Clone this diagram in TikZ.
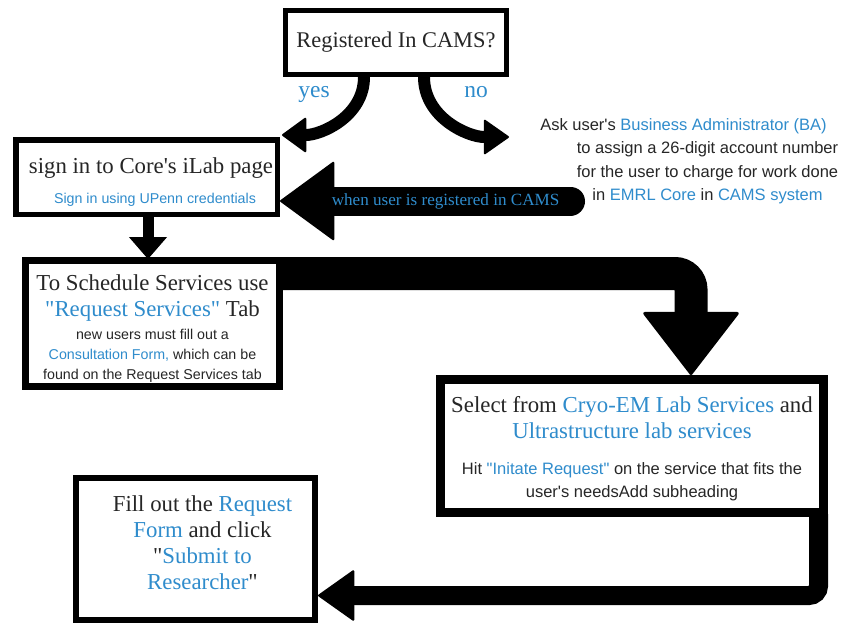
\documentclass[tikz,border=0pt]{standalone}
\usepackage{fontspec}
\newfontfamily\headserif{Liberation Serif}
\newfontfamily\bodysans{Liberation Sans}
\usepackage{xcolor}
\usetikzlibrary{arrows.meta, positioning, calc}

\definecolor{linkblue}{RGB}{47,140,204}
\definecolor{textdark}{RGB}{38,38,38}
% natural, rigid word spaces inside the boxes
\newcommand{\rigidspace}{\spaceskip=\fontdimen2\font\xspaceskip=\fontdimen2\font}
\newcommand{\headfont}{\headserif\fontsize{22.8}{26}\selectfont\rigidspace}
\newcommand{\subfont}{\bodysans\fontsize{14.25}{20.3}\selectfont\rigidspace}
\newcommand{\notefont}{\bodysans\fontsize{16.5}{22.4}\selectfont\rigidspace}
\newcommand{\askfont}{\bodysans\fontsize{16.5}{23.5}\selectfont}
\newcommand{\lnk}[1]{\textcolor{linkblue}{#1}}

\begin{document}
\begin{tikzpicture}[x=1pt, y=1pt,
  stepbox/.style={rectangle, draw=black, fill=white, inner sep=0pt,
    align=center, text=textdark},
  flow/.style={draw=black},
  branchlbl/.style={font=\headserif\fontsize{23.5}{26}\selectfont,
    text=linkblue, anchor=base},
  flowlbl/.style={font=\headserif\fontsize{17.1}{20}\selectfont,
    text=linkblue},
  note/.style={align=center, text=textdark, font=\askfont},
]
\path[fill=white, use as bounding box] (0,0) rectangle (847,-622);
%
% ====== DECISION ======
\node[stepbox, line width=5pt, minimum width=221pt, minimum height=64pt,
  font=\headserif\fontsize{22.4}{26}\selectfont] (cams) at (396,-42.5)
  {Registered In CAMS?};
\node[branchlbl] (yes) at ([shift={(-82,-20)}]cams.south) {yes};
\node[branchlbl] (no) at ([shift={(80,-20)}]cams.south) {no};
\node[note] (ask) at (707.5,-161)
  {Ask user's \lnk{Business Administrator (BA)}\hspace*{48pt}\\
   to assign a 26-digit account number\\
   for the user to charge for work done\\
   in \lnk{EMRL Core} in \lnk{CAMS system}};
\coordinate (noend) at (509,-137);
\coordinate (camstail) at (570.5,-201);
%
% ====== STEPS ======
\node[stepbox, line width=5.5pt, minimum width=261.5pt, minimum height=74.5pt,
  text width=255pt] (ilab) at (146.5,-177)
  {{\headfont\advance\leftskip by 9pt
    \rule{0pt}{26pt}sign in to Core's iLab page\par}\vspace{9pt}%
   {\subfont\advance\leftskip by 17pt
    \lnk{Sign in using UPenn credentials}\par}};
\node[stepbox, line width=7pt, minimum width=254pt, minimum height=126pt,
  text width=247pt] (sched) at (152.5,-323.5)
  {{\headfont\rule{0pt}{26pt}To Schedule Services use\\
    \lnk{"Request Services"} Tab\par}\vspace{2.7pt}%
   {\subfont new users must fill out a\\
    \lnk{Consultation Form,} which can be\\
    found on the Request Services tab\par}};
\node[stepbox, line width=9pt, minimum width=383pt, minimum height=133pt,
  text width=372pt] (select) at (632,-446)
  {{\headfont\rule{0pt}{21.5pt}Select from \lnk{Cryo-EM Lab Services} and\\
    \lnk{Ultrastructure lab services}\par}\vspace{13.9pt}%
   {\notefont Hit \lnk{"Initate Request"} on the service that fits the\\
    user's needsAdd subheading\par}};
\node[stepbox, line width=6pt, minimum width=239pt, minimum height=142pt,
  text width=233pt] (form) at (195.5,-549)
  {{\headfont\advance\leftskip by 14pt
    Fill out the \lnk{Request}\\
    \lnk{Form} and click\\
    "\lnk{Submit to}\\
    \lnk{Researcher}"\rule[-12pt]{0pt}{12pt}\par}};
%
% ====== CONNECTORS ======
\draw[flow, line width=12pt,
  -{Triangle[length=25pt, width=36pt, line width=2pt, round]}]
  ([xshift=-32pt]cams.south) to[out=-90, in=0]
  ([shift={(2,2)}]ilab.north east);
\draw[flow, line width=12pt,
  -{Triangle[length=26pt, width=36pt, line width=2pt, round]}]
  ([xshift=28pt]cams.south) to[out=-90, in=180] (noend);
\draw[flow, line width=29pt, line cap=round,
  -{Triangle[length=55pt, width=80pt, line width=2pt, round]}]
  (camstail) -- node[flowlbl, pos=.43] {when user is registered in CAMS}
  ([yshift=-24pt]ilab.east);
\draw[flow, line width=11pt,
  -{Triangle[length=22pt, width=38pt, line width=1pt]}]
  ([xshift=1.5pt]ilab.south) -- ([xshift=1.5pt,yshift=-2pt]ilab.south |- sched.north);
\draw[flow, line width=33pt, rounded corners=16pt,
  -{Triangle[length=64pt, width=98pt, line width=3pt, round]}]
  ([xshift=-3pt,yshift=-16.5pt]sched.north east) -| ([xshift=59pt]select.north);
\draw[flow, line width=19pt, rounded corners=9.5pt,
  -{Triangle[length=37pt, width=52pt, line width=2pt, round]}]
  ([xshift=-9.5pt,yshift=3pt]select.south east) |- ([yshift=-46.5pt]form.east);
\end{tikzpicture}
\end{document}
